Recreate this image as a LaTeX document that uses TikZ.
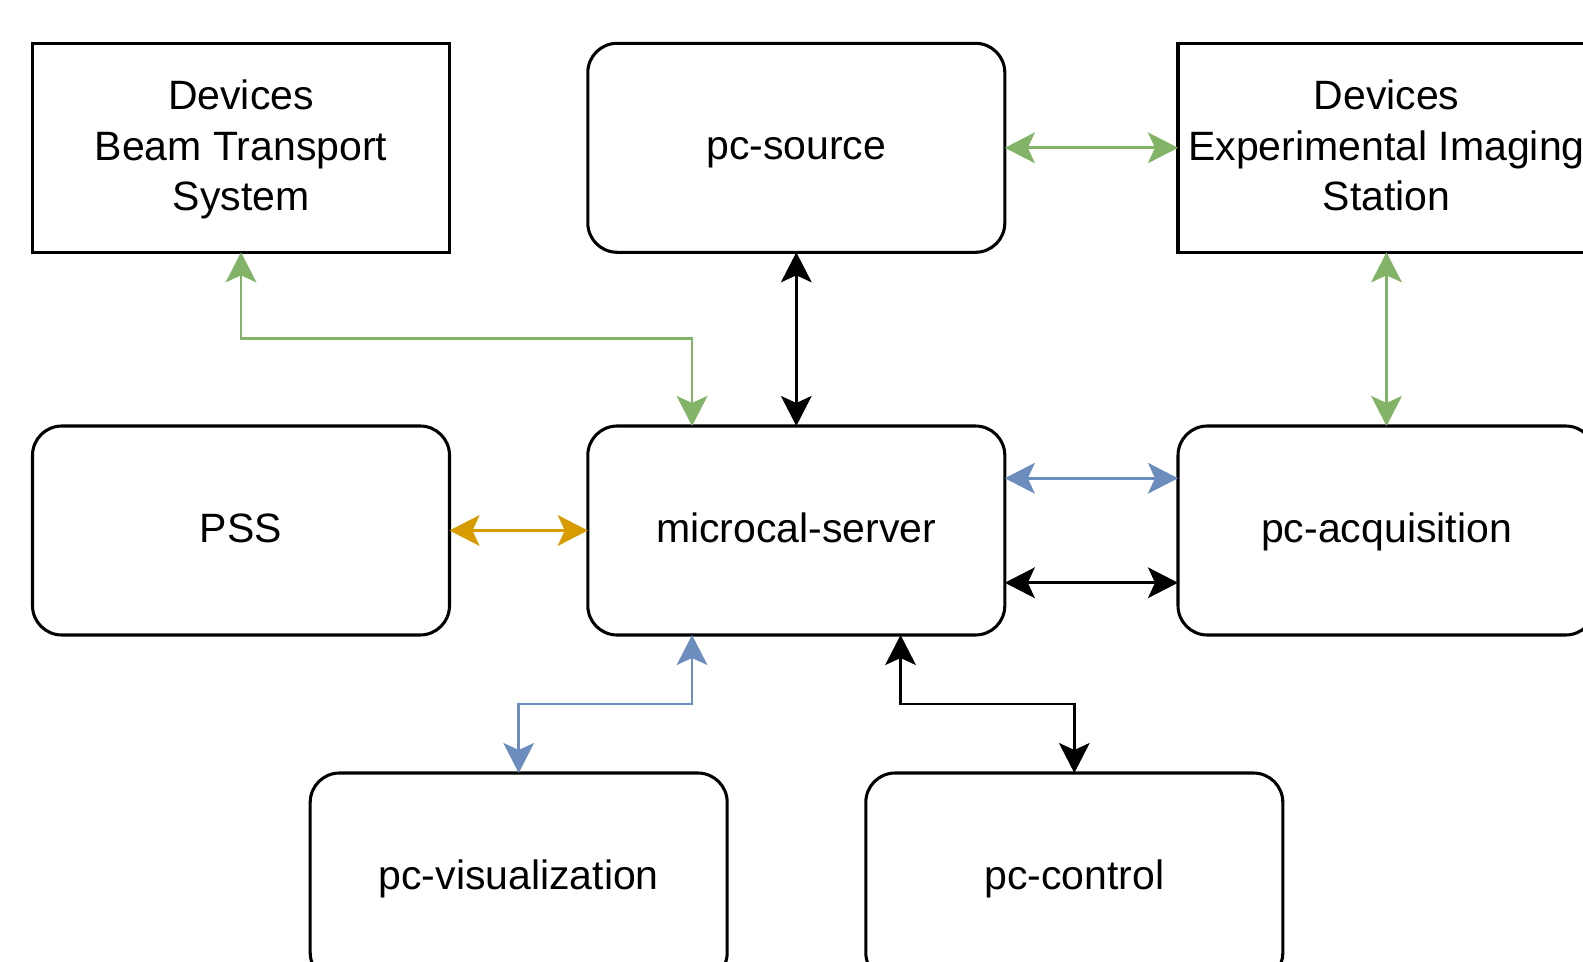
\documentclass[tikz,border=0pt]{standalone}
\usepackage{fontspec}
\setmainfont{Liberation Sans}
\usetikzlibrary{arrows.meta,calc}
\definecolor{dgreen}{HTML}{82B366}
\definecolor{dblue}{HTML}{6C8EBF}
\definecolor{dorange}{HTML}{D79B00}
\begin{document}
\begin{tikzpicture}[x=0.75pt,y=-0.75pt,
  box/.style={draw=black, line width=2.3pt, fill=white, outer sep=0pt,
    minimum width=312.75pt, minimum height=156.75pt, inner sep=0pt,
    align=center, font=\fontsize{30.75pt}{38pt}\selectfont},
  rbox/.style={box, rounded corners=22pt},
  one/.style={text height=24.2pt, text depth=6.6pt},
  multi/.style={text depth=8.2pt},
  biarrow/.style={line width=2pt,
    {Stealth[length=22.5pt,width=23pt,inset=5.25pt]}-{Stealth[length=22.5pt,width=23pt,inset=5.25pt]}}
]
\useasboundingbox (0,0) rectangle (1583,962);
\fill[white] (0,0) rectangle (1583,962);
\clip (0,0) rectangle (1583,962);

\node[box, multi]  (beam) at (241,147.8)    {\strut Devices\\Beam Transport\\System\strut};
\node[rbox, one]   (src)  at (796.3,147.8)  {pc-source};
\node[box, multi]  (eis)  at (1386.5,147.8) {\strut Devices\\Experimental Imaging\\Station\strut};
\node[rbox, one]   (pss)  at (241,530.5)    {PSS};
\node[rbox, one]   (mc)   at (796.3,530.5)  {microcal-server};
\node[rbox, one]   (acq)  at (1386.5,530.5) {pc-acquisition};
\node[rbox, one]   (vis)  at (518.7,877.5)  {pc-visualization};
\node[rbox, one]   (ctl)  at (1074.3,877.5) {pc-control};

\coordinate (mcnq) at ($(mc.north west)!0.25!(mc.north east)$);
\coordinate (mcsq) at ($(mc.south west)!0.25!(mc.south east)$);
\coordinate (mcst) at ($(mc.south west)!0.75!(mc.south east)$);
\coordinate (mceq) at ($(mc.north east)!0.25!(mc.south east)$);
\coordinate (mcet) at ($(mc.north east)!0.75!(mc.south east)$);
\coordinate (yb) at (0,338.5);
\coordinate (yv) at (0,704);

% green
\draw[biarrow, dgreen] (beam.south) -- (beam.south |- yb) -| (mcnq);
\draw[biarrow, dgreen] (src.east) -- (eis.west);
\draw[biarrow, dgreen] (eis.south) -- (acq.north);
% black
\draw[biarrow, black] (src.south) -- (mc.north);
\draw[biarrow, black] (mcet) -- (mcet -| acq.west);
\draw[biarrow, black] (mcst) -- (mcst |- yv) -| (ctl.north);
% blue
\draw[biarrow, dblue] (mceq) -- (mceq -| acq.west);
\draw[biarrow, dblue] (mcsq) -- (mcsq |- yv) -| (vis.north);
% orange
\draw[biarrow, dorange] (pss.east) -- (mc.west);
\end{tikzpicture}
\end{document}
